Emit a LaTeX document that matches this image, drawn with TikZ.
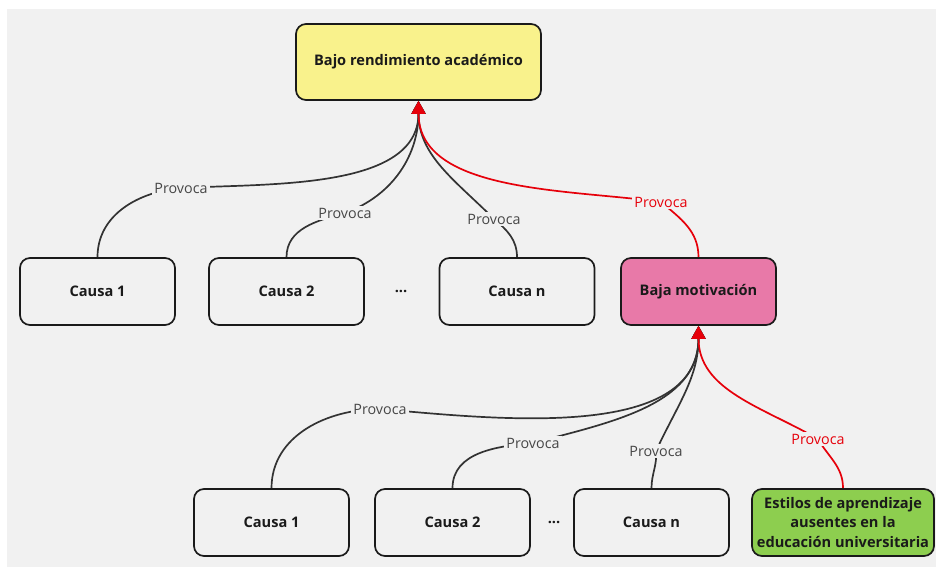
\documentclass[tikz,border=0pt]{standalone}
\usepackage{fontspec}
\setmainfont{Open Sans}
\usetikzlibrary{arrows.meta}
\definecolor{bgc}{RGB}{241,241,241}
\definecolor{yel}{RGB}{249,242,140}
\definecolor{pnk}{RGB}{232,121,168}
\definecolor{grn}{RGB}{141,206,79}
\definecolor{edg}{RGB}{51,51,51}
\definecolor{lbl}{RGB}{70,70,70}
\definecolor{rd}{RGB}{230,0,10}
\definecolor{txt}{RGB}{26,26,26}
\pgfdeclarelayer{back}
\pgfdeclarelayer{edges}
\pgfsetlayers{back,edges,main}
\tikzset{
  box/.style={draw=txt, line width=1.7pt, rounded corners=10pt, fill=bgc,
    minimum width=155pt, minimum height=67pt, font=\bfseries\fontsize{14.6}{17}\selectfont, text=txt, align=center},
  lab/.style={fill=bgc, inner sep=2pt, font=\fontsize{14.3}{17}\selectfont, text=lbl},
  rlab/.style={lab, text=rd},
  conn/.style={draw=edg, line width=1.7pt, -{Triangle[width=14pt,length=13pt]}},
  rconn/.style={conn, draw=rd},
  dots/.style={font=\bfseries\fontsize{14.6}{17}\selectfont, text=txt}
}
\begin{document}
\begin{tikzpicture}[x=1pt,y=1pt]
\useasboundingbox (0,0) rectangle (936,567);
\begin{pgfonlayer}{back}
\fill[bgc] (7,0) rectangle (936,558);
\end{pgfonlayer}
% nodes
\node[box, fill=yel, minimum width=245pt, minimum height=76pt] (top) at (418.5,505) {Bajo rendimiento académico};
\node[box] (c1) at (97.5,275.5) {Causa 1};
\node[box] (c2) at (286.5,275.5) {Causa 2};
\node[dots] (d1) at (401,275.5) {...};
\node[box] (cn) at (517,275.5) {Causa n};
\node[box, fill=pnk] (bm) at (698.5,275.5) {Baja motivación};
\node[box] (b1) at (271.5,44.5) {Causa 1};
\node[box] (b2) at (452.5,44.5) {Causa 2};
\node[dots] (d2) at (554,44.5) {...};
\node[box] (bn) at (651.5,44.5) {Causa n};
\node[box, fill=grn, minimum width=182pt, inner sep=1pt, font=\bfseries\fontsize{14.6}{19.5}\selectfont] (es) at (843,44.5) {Estilos de aprendizaje\\ausentes en la\\educación universitaria};
% labels
\node[lab] (l1) at (181,379) {Provoca};
\node[lab] (l2) at (345,354) {Provoca};
\node[lab] (l3) at (494,348) {Provoca};
\node[rlab] (l4) at (661,365) {Provoca};
\node[lab] (l5) at (380,158) {Provoca};
\node[lab] (l6) at (533,124) {Provoca};
\node[lab] (l7) at (656,116) {Provoca};
\node[rlab] (l8) at (818,128) {Provoca};
% connectors
\begin{pgfonlayer}{edges}
\draw[conn] (c1.north) to[out=90,in=185] (l1.center) to[out=3,in=-90,looseness=0.9] (top.south);
\draw[conn] (c2.north) to[out=90,in=195] (l2.center) to[out=20,in=-90] (top.south);
\draw[conn] (cn.north) to[out=90,in=-40] (l3.center) to[out=135,in=-90] (top.south);
\draw[conn] (b1.north) to[out=90,in=180] (l5.center) to[out=-5,in=-90,looseness=0.9] (bm.south);
\draw[conn] (b2.north) to[out=90,in=185] (l6.center) to[out=15,in=-90] (bm.south);
\draw[conn] (bn.north) to[out=90,in=-85] (l7.center) to[out=65,in=-90] (bm.south);
\draw[rconn] (bm.north) to[out=90,in=-40] (l4.center) to[out=172,in=-90,looseness=0.9] (top.south);
\draw[rconn] (es.north) to[out=90,in=-60] (l8.center) to[out=150,in=-90] (bm.south);
\end{pgfonlayer}
\end{tikzpicture}
\end{document}
